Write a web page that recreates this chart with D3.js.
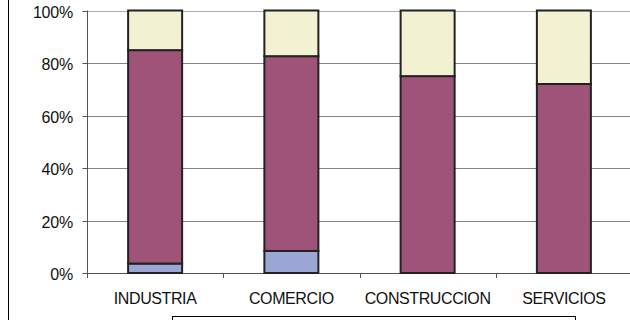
<!DOCTYPE html>
<html><head><meta charset="utf-8">
<script src="https://cdn.jsdelivr.net/npm/d3@7"></script>
<style>body{margin:0;background:#fff}svg{display:block}</style>
</head><body>
<script>
const categories = ["INDUSTRIA", "COMERCIO", "CONSTRUCCION", "SERVICIOS"];
const seriesNames = ["A", "B", "C"];
const serieA = [3.6, 8.4, 0, 0];
const serieB = [81.3, 74.2, 75.0, 72.0];
const serieC = [15.1, 17.4, 25.0, 28.0];
const yTicks = [0, 20, 40, 60, 80, 100];
const colors = ["#9BA6D5", "#A05378", "#F2F2D2"];

(function () {
const W = 630, H = 320;
const svg = d3.select("body").append("svg").attr("width", W).attr("height", H);
const pLeft = 87, pRight = 632, pTop = 10.5, pBottom = 273;
const font = "Liberation Sans, Arial, sans-serif";

const x = d3.scaleBand().domain(categories).range([pLeft, pRight]).paddingInner(0).paddingOuter(0);
const y = d3.scaleLinear().domain([0, 100]).range([pBottom, pTop]);

// outer border line
svg.append("line").attr("x1", 8.5).attr("x2", 8.5).attr("y1", 0).attr("y2", H)
  .attr("stroke", "#000").attr("stroke-width", 1);

// gridlines
svg.append("g").selectAll("line").data(yTicks.filter(d => d > 0)).join("line")
  .attr("x1", pLeft).attr("x2", W)
  .attr("y1", d => Math.round(y(d)) + 0.5).attr("y2", d => Math.round(y(d)) + 0.5)
  .attr("stroke", d => d === 100 ? "#A4ACB8" : "#858585").attr("stroke-width", 1);

// y axis
const yAxis = d3.axisLeft(y).tickValues(yTicks).tickFormat(d => d + "%").tickSize(5).tickPadding(9);
const gy = svg.append("g").attr("transform", `translate(${pLeft + 0.5},0)`).call(yAxis);
gy.select(".domain").attr("stroke", "#555").attr("d", `M0,${pTop}V${pBottom}`);
gy.selectAll(".tick line").attr("stroke", "#555");
gy.selectAll(".tick").attr("transform", d => `translate(0,${Math.round(y(d)) + 0.5})`);
gy.selectAll("text").attr("font-family", font).attr("font-size", 16)
  .attr("fill", "#111").attr("dy", "0.40em").attr("x", -14.5).attr("letter-spacing", "-0.2px");

// x axis
const bw = x.step();
svg.append("line").attr("x1", pLeft).attr("x2", W).attr("y1", Math.round(pBottom) + 0.5).attr("y2", Math.round(pBottom) + 0.5)
  .attr("stroke", "#555");
svg.append("g").selectAll("line").data(categories).join("line")
  .attr("x1", d => Math.round(x(d)) + 0.5).attr("x2", d => Math.round(x(d)) + 0.5)
  .attr("y1", pBottom).attr("y2", pBottom + 5).attr("stroke", "#555");
svg.append("g").selectAll("text").data(categories).join("text")
  .attr("x", d => x(d) + bw / 2).attr("y", 304)
  .attr("text-anchor", "middle")
  .attr("font-family", font).attr("font-size", 16)
  .attr("letter-spacing", "-0.4px").attr("fill", "#111")
  .text(d => d);

// stacked bars
const rows = categories.map((c, i) => ({cat: c, A: serieA[i], B: serieB[i], C: serieC[i]}));
const stack = d3.stack().keys(seriesNames)(rows);
const barW = 54;
const g = svg.append("g");
stack.forEach((layer, li) => {
  g.selectAll(null).data(layer.filter(d => d[1] - d[0] > 0)).join("rect")
    .attr("x", d => x(d.data.cat) + bw / 2 - barW / 2)
    .attr("y", d => y(d[1]))
    .attr("width", barW)
    .attr("height", d => y(d[0]) - y(d[1]))
    .attr("fill", colors[li])
    .attr("stroke", "#222").attr("stroke-width", 2);
});

// legend box (clipped at bottom)
svg.append("rect").attr("x", 172.5).attr("y", 316.5).attr("width", 403).attr("height", 20)
  .attr("fill", "#fff").attr("stroke", "#000").attr("stroke-width", 1);
})();
</script>
</body></html>
